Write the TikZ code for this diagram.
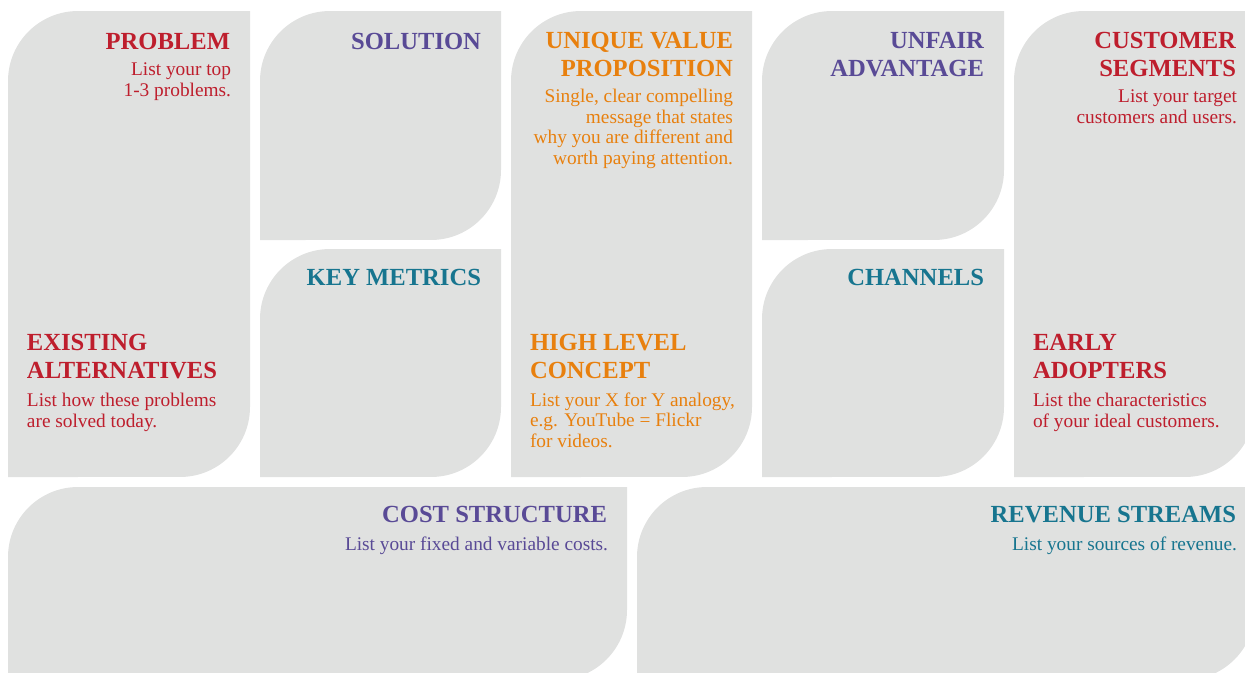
\documentclass[tikz,border=0pt]{standalone}
\usepackage{fontspec}
\setmainfont{Liberation Serif}
\usepackage{tikz}

\definecolor{leafgray}{HTML}{E0E1E0}
\definecolor{canvasred}{HTML}{BE1E2D}
\definecolor{canvaspurple}{HTML}{594A96}
\definecolor{canvasorange}{HTML}{E8800E}
\definecolor{canvasteal}{HTML}{17758F}

\begin{document}
\begin{tikzpicture}[x=0.02cm, y=-0.02cm,
    every node/.style={inner sep=0pt, outer sep=0pt},
    title/.style={font=\fontsize{14}{15.5}\selectfont\bfseries, align=right, anchor=base east},
    ltitle/.style={font=\fontsize{14}{15.5}\selectfont\bfseries, align=left, anchor=base west},
    hint/.style={font=\fontsize{11}{11.6}\selectfont, align=right, anchor=base east},
    lhint/.style={font=\fontsize{11}{11.6}\selectfont, align=left, anchor=base west}]
            \useasboundingbox (0,0) rectangle (1245,673);
            \clip (0,0) rectangle (1245,673);
            % leaf shaped boxes: left, top, right, bottom
            \foreach \xa/\ya/\xb/\yb in {8/11/250/477, 260/11/501/240, 260/249/501/477,
                511/11/752/477, 762/11/1004/240, 762/249/1004/477, 1014/11/1255/477,
                8/487/627/680, 637/487/1255/680}
                \fill[leafgray] (\xa,\yb) -- (\xa,\ya+70) arc[start angle=180, end angle=90, radius=1.4cm]
                    -- (\xb,\ya) -- (\xb,\yb-70) arc[start angle=0, end angle=-90, radius=1.4cm] -- cycle;
            % top row (nodes sit on the baseline of their last line)
            \node[title, canvasred] (problem) at (230,49) {PROBLEM};
            \node[hint, canvasred] (problem-txt) at (231,96) {List your top\\1-3 problems.};
            \node[title, canvaspurple] (solution) at (481,49) {SOLUTION};
            \node[title, canvasorange] (uvp) at (733,76) {UNIQUE VALUE\\PROPOSITION};
            \node[hint, canvasorange] (uvp-txt) at (733,164) {Single, clear compelling\\message that states\\why you are different and\\worth paying attention.};
            \node[title, canvaspurple] (unfair) at (984,76) {UNFAIR\\ADVANTAGE};
            \node[title, canvasred] (segments) at (1236,76) {CUSTOMER\\SEGMENTS};
            \node[hint, canvasred] (segments-txt) at (1237,123) {List your target\\customers and users.};
            % second row
            \node[title, canvasteal] (metrics) at (481,285) {KEY METRICS};
            \node[title, canvasteal] (channels) at (984,285) {CHANNELS};
            \node[ltitle, canvasred] (alternatives) at (27,378) {EXISTING\\ALTERNATIVES};
            \node[lhint, canvasred] (alternatives-txt) at (27,427) {List how these problems\\are solved today.};
            \node[ltitle, canvasorange] (concept) at (530,378) {HIGH LEVEL\\CONCEPT};
            \node[lhint, canvasorange] (concept-txt) at (530,447) {List your X for Y analogy,\\e.g. YouTube = Flickr\\for videos.};
            \node[ltitle, canvasred] (adopters) at (1033,378) {EARLY\\ADOPTERS};
            \node[lhint, canvasred] (adopters-txt) at (1033,427) {List the characteristics\\of your ideal customers.};
            % bottom row
            \node[title, canvaspurple] (cost) at (607,522) {COST STRUCTURE};
            \node[hint, canvaspurple] (cost-txt) at (608,550) {List your fixed and variable costs.};
            \node[title, canvasteal] (revenue) at (1236,522) {REVENUE STREAMS};
            \node[hint, canvasteal] (revenue-txt) at (1237,550) {List your sources of revenue.};
        \end{tikzpicture}
\end{document}
